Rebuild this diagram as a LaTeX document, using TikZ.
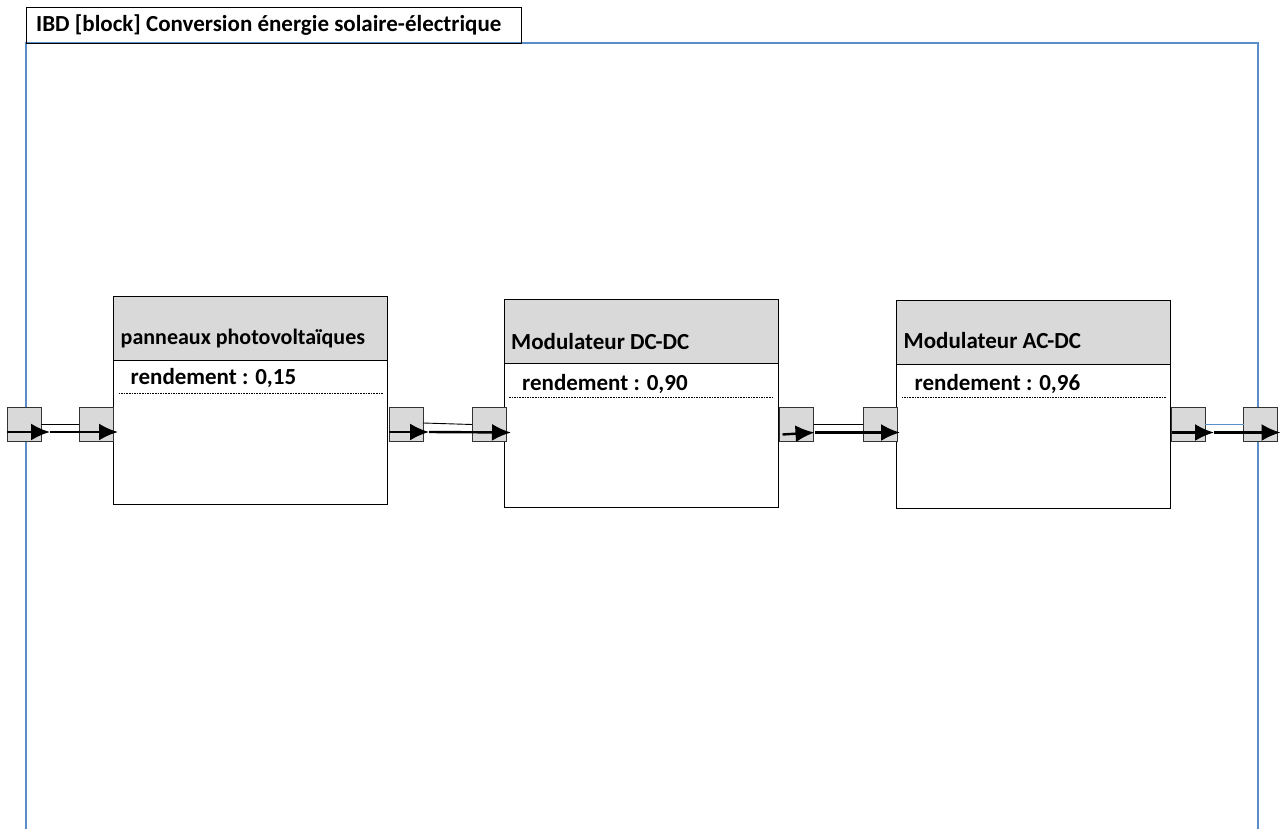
\documentclass[tikz,border=0pt]{standalone}
\usepackage{fontspec}
\setmainfont{Carlito}
\usetikzlibrary{arrows.meta,positioning,calc}
\definecolor{frameblue}{HTML}{5B8DC9}
\definecolor{headgray}{HTML}{D9D9D9}
\tikzset{
  blockbox/.style={draw=black,fill=white,line width=0.9pt,inner sep=0pt,outer sep=0pt,
    minimum width=274pt,minimum height=208pt},
  headerbox/.style={draw=black,fill=headgray,line width=0.9pt,inner sep=0pt,outer sep=0pt,
    minimum width=274pt,minimum height=64pt,anchor=north},
  portbox/.style={draw=black!80,fill=headgray,line width=0.9pt,inner sep=0pt,outer sep=0pt,
    minimum size=34pt},
  blocklabel/.style={font=\fontsize{23}{26}\selectfont\bfseries,anchor=west,inner sep=0pt},
  dashline/.style={dash pattern=on 1.6pt off 1pt,line width=0.8pt},
  linkline/.style={line width=0.9pt},
  flowarrow/.style={-{Latex[length=19pt,width=17pt]},line width=2.4pt}
}
\begin{document}
\begin{tikzpicture}[x=1pt,y=-1pt]
  \useasboundingbox (0,0) rectangle (1281,829);
  % cadre du diagramme
  \draw[frameblue,line width=1.2pt] (26,829) -- (26,43) -- (1258,43) -- (1258,829);
  \node[draw=black,line width=0.9pt,inner sep=0pt,outer sep=0pt,minimum width=495pt,minimum height=36pt,
    anchor=north west] (tab) at (26,7) {};
  \node[blocklabel] (tabtitle) at ([xshift=10pt]tab.west) {IBD [block] Conversion énergie solaire-électrique};
  % blocs
  \node[blockbox] (pv) at (250.5,400) {};
  \node[headerbox] (pvhead) at (pv.north) {};
  \node[blocklabel,font=\fontsize{22}{25}\selectfont\bfseries] (pvtitle) at ([xshift=7pt,yshift=-43pt]pv.north west) {panneaux photovoltaïques};
  \node[blocklabel] (pvattr) at ([xshift=17pt,yshift=-82pt]pv.north west) {rendement : 0,15};
  \draw[dashline] ([xshift=5pt,yshift=-97pt]pv.north west) -- ([xshift=-5pt,yshift=-97pt]pv.north east);

  \node[blockbox] (dcdc) at (641,403.5) {};
  \node[headerbox] (dcdchead) at (dcdc.north) {};
  \node[blocklabel] (dcdctitle) at ([xshift=7pt,yshift=-42pt]dcdc.north west) {Modulateur DC-DC};
  \node[blocklabel] (dcdcattr) at ([xshift=18pt,yshift=-84pt]dcdc.north west) {rendement : 0,90};
  \draw[dashline] ([xshift=5pt,yshift=-98pt]dcdc.north west) -- ([xshift=-5pt,yshift=-98pt]dcdc.north east);

  \node[blockbox] (acdc) at (1033.5,404) {};
  \node[headerbox] (acdchead) at (acdc.north) {};
  \node[blocklabel] (acdctitle) at ([xshift=7pt,yshift=-41pt]acdc.north west) {Modulateur AC-DC};
  \node[blocklabel] (acdcattr) at ([xshift=18pt,yshift=-84pt]acdc.north west) {rendement : 0,96};
  \draw[dashline] ([xshift=5pt,yshift=-97pt]acdc.north west) -- ([xshift=-5pt,yshift=-97pt]acdc.north east);
  % ports
  \node[portbox] (p1) at (24,424) {};
  \node[portbox] (p2) at (96,424) {};
  \node[portbox] (p3) at (406,424) {};
  \node[portbox] (p4) at (489,424.5) {};
  \node[portbox] (p5) at (796.5,424.5) {};
  \node[portbox] (p6) at (880,424.5) {};
  \node[portbox] (p7) at (1188,424.5) {};
  \node[portbox] (p8) at (1260.5,424.5) {};
  % connecteurs
  \draw[linkline] (p1.east) -- (p2.west);
  \draw[linkline] ([yshift=1pt]p3.east) -- (p4.west);
  \draw[linkline] (p5.east) -- (p6.west);
  \draw[linkline,frameblue] (p7.east) -- (p8.west);
  % flux
  \draw[flowarrow] ([yshift=-8pt]p1.west) -- ([xshift=9pt,yshift=-8pt]p1.east);
  \draw[flowarrow] ([xshift=9pt,yshift=-8pt]p1.east) -- ([xshift=5pt,yshift=-8pt]p2.east);
  \draw[flowarrow] ([yshift=-8pt]p3.west) -- ([xshift=6pt,yshift=-8pt]p3.east);
  \draw[flowarrow] ([xshift=6pt,yshift=-8pt]p3.east) -- ([xshift=5pt,yshift=-8pt]p4.east);
  \draw[flowarrow] ([xshift=3pt,yshift=-10pt]p5.west) -- ([xshift=1pt,yshift=-8pt]p5.east);
  \draw[flowarrow] ([xshift=1pt,yshift=-8pt]p5.east) -- ([xshift=3pt,yshift=-8pt]p6.east);
  \draw[flowarrow] ([xshift=1pt,yshift=-8pt]p7.west) -- ([xshift=9pt,yshift=-8pt]p7.east);
  \draw[flowarrow] ([xshift=9pt,yshift=-8pt]p7.east) -- ([xshift=3pt,yshift=-8pt]p8.east);
\end{tikzpicture}
\end{document}
